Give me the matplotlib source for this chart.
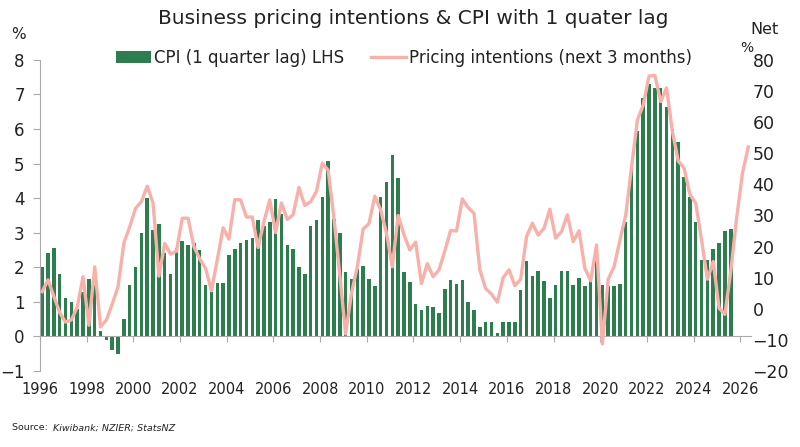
import numpy as np
import matplotlib.pyplot as plt

# quarterly data, first point = 1996 Q1 on the chart's axis
start_year = 1996
cpi_lagged = [2.0, 2.4, 2.55, 1.8, 1.1, 1.0, 0.8, 1.3, 1.65, 1.5,
              0.17, -0.1, -0.38, -0.5, 0.5, 1.5, 2.0, 3.0, 4.0, 3.07,
              3.24, 2.42, 1.82, 2.57, 2.75, 2.65, 2.7, 2.5, 1.49, 1.3,
              1.55, 1.55, 2.37, 2.54, 2.7, 2.78, 2.85, 3.36, 3.2, 3.3,
              3.97, 3.54, 2.64, 2.54, 2.01, 1.8, 3.19, 3.36, 4.02, 5.07,
              3.4, 2.98, 1.86, 1.67, 1.94, 2.05, 1.67, 1.47, 4.02, 4.46,
              5.26, 4.59, 1.85, 1.57, 0.95, 0.77, 0.88, 0.85, 0.68, 1.38,
              1.62, 1.53, 1.62, 1.01, 0.77, 0.27, 0.42, 0.42, 0.1, 0.42,
              0.42, 0.42, 1.35, 2.17, 1.74, 1.9, 1.6, 1.1, 1.5, 1.9,
              1.89, 1.48, 1.68, 1.46, 1.6, 2.45, 1.5, 1.45, 1.45, 1.52,
              3.3, 4.9, 5.93, 6.9, 7.3, 7.2, 7.2, 6.65, 6.0, 5.63,
              4.6, 4.04, 3.31, 2.2, 2.22, 2.52, 2.69, 3.04, 3.1]
pricing_intentions = [5.5, 9.3, 4.0, -1.2, -4.3, -3.6, 0.5, 10.3, -5.3, 13.5,
                      -5.8, -3.6, 1.5, 7.1, 21.1, 26.4, 32.3, 34.4, 39.4, 34.0,
                      10.5, 21.0, 17.6, 18.5, 29.1, 29.1, 20.0, 16.0, 13.0, 5.8,
                      15.7, 26.0, 22.4, 35.1, 35.0, 29.5, 29.5, 19.7, 28.0, 35.0,
                      24.5, 34.0, 28.7, 30.2, 39.0, 33.2, 34.4, 37.7, 46.8, 44.6,
                      29.2, 10.8, -8.1, 5.0, 13.5, 25.6, 27.4, 36.2, 31.8, 24.3,
                      13.5, 30.0, 23.8, 18.9, 21.4, 8.1, 14.5, 10.3, 12.5, 18.6,
                      25.2, 25.0, 35.3, 32.5, 30.7, 12.5, 6.5, 4.7, 2.1, 10.0,
                      12.5, 7.4, 9.5, 23.2, 27.5, 23.7, 25.9, 32.0, 22.7, 24.8,
                      30.2, 21.6, 25.1, 13.0, 9.0, 20.5, -11.3, 9.5, 13.5, 22.0,
                      30.0, 45.5, 60.7, 65.5, 74.8, 75.0, 66.6, 71.0, 57.0, 47.5,
                      45.2, 36.8, 33.9, 22.1, 9.5, 15.2, 0.2, -1.8, 12.0, 29.0,
                      43.5, 52.0]
year_ticks = list(range(1996, 2027, 2))

green = '#2e7d4f'
pink = '#f7b0aa'
txt = '#222222'
plt.rcParams['font.family'] = ['DejaVu Sans']

x_cpi = start_year + 0.094 + np.arange(len(cpi_lagged)) * 0.25
x_pi = start_year + 0.094 + np.arange(len(pricing_intentions)) * 0.25

fig = plt.figure(figsize=(8, 4.47), dpi=100)
ax = fig.add_axes([0.05, 0.17, 0.889, 0.696])
ax2 = ax.twinx()

bars = ax.bar(x_cpi, cpi_lagged, width=0.15, color=green,
              label='CPI (1 quarter lag) LHS')
line, = ax2.plot(x_pi, pricing_intentions, color=pink, lw=2.4,
                 label='Pricing intentions (next 3 months)')

ax.set_xlim(1996, 2026.47)
ax.set_ylim(-1, 8)
ax2.set_ylim(-20, 80)
ax.set_yticks(range(-1, 9))
ax2.set_yticks(range(-20, 81, 10))
ax.set_xticks(year_ticks)

for s in ['top', 'right']:
    ax.spines[s].set_visible(False)
for s in ax2.spines.values():
    s.set_visible(False)
ax.spines['bottom'].set_position(('data', 0))
ax.spines['bottom'].set_color('#aaaaaa')
ax.spines['left'].set_color('#aaaaaa')

ax.tick_params(axis='x', length=4, color='#aaaaaa', pad=29,
               labelsize=10.5, labelcolor=txt)
ax.tick_params(axis='y', length=5, color='#aaaaaa', pad=6,
               labelsize=12, labelcolor=txt)
ax2.tick_params(axis='y', length=0, pad=1, labelsize=12.5, labelcolor=txt)

fig.text(0.516, 0.958, 'Business pricing intentions & CPI with 1 quater lag',
         ha='center', va='center', fontsize=14.5, color=txt)
fig.text(0.023, 0.922, '%', ha='center', va='center', fontsize=11, color=txt)
fig.text(0.956, 0.935, 'Net', ha='center', va='center', fontsize=11.5, color=txt)
fig.text(0.934, 0.893, '%', ha='center', va='center', fontsize=10, color=txt)

fig.legend(handles=[bars, line], loc='center', bbox_to_anchor=(0.505, 0.87),
           ncol=2, frameon=False, fontsize=12, handlelength=2.1,
           handleheight=0.7, handletextpad=0.2, columnspacing=1.6,
           labelcolor=txt)

fig.text(0.015, 0.043, 'Source: ', fontsize=6.8, color=txt, ha='left', va='center')
fig.text(0.066, 0.043, 'Kiwibank; NZIER; StatsNZ', fontsize=6.8, style='italic',
         color=txt, ha='left', va='center')

fig.savefig('out.png', dpi=100)
